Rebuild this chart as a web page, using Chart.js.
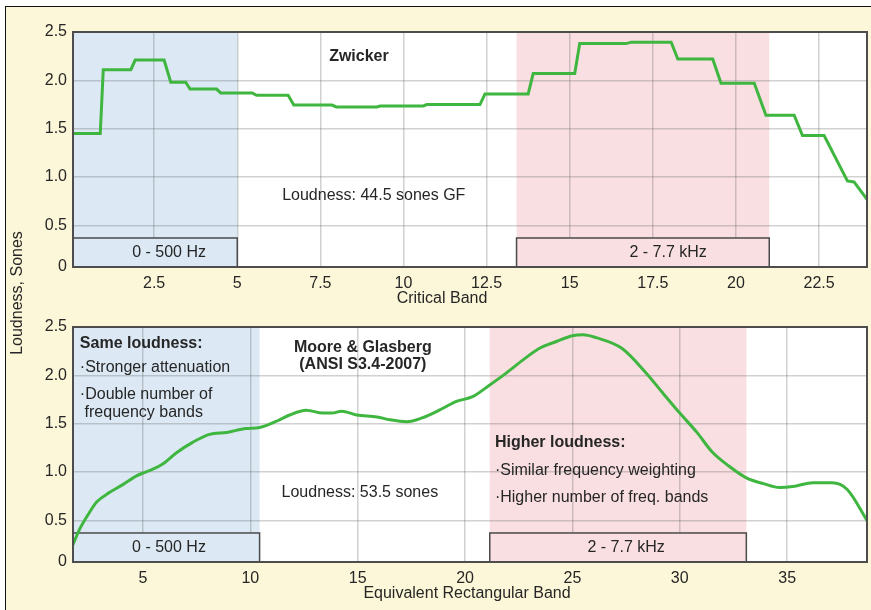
<!DOCTYPE html>
<html><head><meta charset="utf-8">
<script src="https://cdn.jsdelivr.net/npm/chart.js@4.4.1/dist/chart.umd.min.js"></script>
<style>
html,body{margin:0;padding:0;background:#fff;}
#wrap{position:relative;width:871px;height:610px;overflow:hidden;}
#bg{position:absolute;left:5px;top:6px;right:0;bottom:0;background:#fdf7d9;border-left:1.5px solid #111;border-top:1.5px solid #111;}
canvas{position:absolute;left:0;top:0;}
</style></head><body>
<div id="wrap"><div id="bg"></div>
<canvas id="c1" width="871" height="610"></canvas>
<canvas id="c2" width="871" height="610"></canvas>
</div>
<script>
// ---- Data ----
const zwickerBand = [0.06,0.88,0.97,1.8,1.93,2.8,3.0,3.45,3.58,4.38,4.5,5.45,5.58,6.53,6.7,7.85,7.98,9.2,9.3,10.6,10.7,12.3,12.45,13.75,13.9,15.15,15.3,16.7,16.85,18.05,18.25,19.3,19.55,20.55,20.9,21.75,22.0,22.65,23.35,23.55,23.94];
const zwickerLoudness = [1.45,1.45,2.11,2.11,2.21,2.21,1.98,1.98,1.91,1.91,1.87,1.87,1.845,1.845,1.745,1.745,1.725,1.725,1.735,1.735,1.75,1.75,1.86,1.86,2.07,2.07,2.38,2.38,2.395,2.395,2.22,2.22,1.97,1.97,1.64,1.64,1.43,1.43,0.96,0.95,0.77];

const erbBand = [1.74,2.05,2.5,2.84,3.45,4.06,4.7,5.0,5.46,5.9,6.56,7.33,8.1,8.9,9.8,10.43,11.36,11.83,12.6,13.37,13.8,14.25,14.95,15.9,16.5,17.3,18.0,18.8,19.6,20.35,21.15,21.9,22.7,23.47,24.26,25.0,25.5,26.1,27.3,28.45,29.2,30.0,30.8,31.5,32.3,33.1,33.9,34.65,35.26,36.2,37.1,37.8,38.72];
const mooreLoudness = [0.25,0.41,0.58,0.69,0.79,0.87,0.96,0.99,1.03,1.08,1.2,1.31,1.39,1.41,1.45,1.46,1.54,1.59,1.64,1.61,1.61,1.63,1.59,1.57,1.54,1.52,1.56,1.64,1.73,1.78,1.9,2.02,2.16,2.28,2.35,2.41,2.42,2.39,2.28,2.02,1.82,1.61,1.41,1.21,1.06,0.94,0.88,0.84,0.85,0.89,0.89,0.82,0.5];

const yTickValues = [0.07,0.5,1,1.5,2,2.5];
const yTickLabels = ['0','0.5','1.0','1.5','2.0','2.5'];
const cbTickValues = [2.5,5,7.5,10,12.5,15,17.5,20,22.5];
const cbTickLabels = ['2.5','5','7.5','10','12.5','15','17.5','20','22.5'];
const erbTickValues = [5,10,15,20,25,30,35];
const erbTickLabels = ['5','10','15','20','25','30','35'];

const cbRegions = [[0,5],[13.4,21.0]];
const erbRegions = [[0,10.43],[21.15,33.1]];
const regionLabels = ['0 - 500 Hz','2 - 7.7 kHz'];

// ---- Styles ----
const FONT = '"Liberation Sans", Arial, Helvetica, sans-serif';
const TXT = '#262626';
const regionColors = ['#dce9f5','#f9dfe2'];
Chart.defaults.font.family = FONT;
Chart.defaults.font.size = 16;
Chart.defaults.color = TXT;

const deco = {
  id: 'deco',
  beforeDraw(chart, args, o) {
    const {ctx, chartArea: a, scales: {x}} = chart;
    ctx.save();
    ctx.fillStyle = '#ffffff';
    ctx.fillRect(a.left, a.top, a.width, a.height);
    o.regions.forEach((r, i) => {
      const x0 = Math.max(x.getPixelForValue(r[0]), a.left);
      const x1 = Math.min(x.getPixelForValue(r[1]), a.right);
      ctx.fillStyle = regionColors[i];
      ctx.fillRect(x0, a.top, x1 - x0, a.height);
    });
    ctx.restore();
  },
  beforeDatasetsDraw(chart, args, o) {
    const {ctx, chartArea: a, scales: {x, y}} = chart;
    ctx.save();
    o.regions.forEach((r, i) => {
      const x0 = Math.max(x.getPixelForValue(r[0]), a.left);
      const x1 = Math.min(x.getPixelForValue(r[1]), a.right);
      const y0 = y.getPixelForValue(o.boxTop);
      ctx.fillStyle = regionColors[i];
      ctx.fillRect(x0, y0, x1 - x0, a.bottom - y0);
      ctx.strokeStyle = '#4a4a4a';
      ctx.lineWidth = 1.5;
      ctx.strokeRect(x0, y0, x1 - x0, a.bottom - y0);
    });
    ctx.restore();
  },
  afterDraw(chart, args, o) {
    const {ctx, chartArea: a, scales: {x, y}} = chart;
    ctx.save();
    ctx.strokeStyle = '#4d4d4d';
    ctx.lineWidth = 2;
    ctx.strokeRect(a.left, a.top, a.width, a.height);
    ctx.fillStyle = TXT;
    ctx.textBaseline = 'middle';
    o.texts.forEach(t => {
      ctx.font = (t.bold ? 'bold ' : '') + '16px ' + FONT;
      ctx.textAlign = t.align || 'left';
      const px = t.abs ? t.x : x.getPixelForValue(t.x);
      const py = t.abs ? t.y : y.getPixelForValue(t.y);
      if (t.rot) {
        ctx.save(); ctx.translate(px, py); ctx.rotate(-Math.PI / 2);
        ctx.fillText(t.text, 0, 0); ctx.restore();
      } else {
        ctx.fillText(t.text, px, py);
      }
    });
    ctx.restore();
  }
};

function makeChart(id, band, loud, xr, xTicks, xLabels, pad, regions, texts, smooth) {
  return new Chart(document.getElementById(id), {
    type: 'line',
    data: {
      datasets: [{
        data: band.map((b, i) => ({x: b, y: loud[i]})),
        borderColor: '#3fb63f',
        borderWidth: 3,
        pointRadius: 0,
        cubicInterpolationMode: smooth ? 'monotone' : 'default',
        tension: 0,
        fill: false
      }]
    },
    options: {
      responsive: false,
      animation: false,
      events: [],
      layout: {padding: pad},
      plugins: {
        legend: {display: false},
        tooltip: {enabled: false},
        deco: {regions: regions, boxTop: 0.37, texts: texts}
      },
      scales: {
        x: {
          type: 'linear', min: xr[0], max: xr[1],
          afterBuildTicks: ax => { ax.ticks = xTicks.map(v => ({value: v})); },
          afterFit: ax => { ax.height = 38; },
          ticks: {padding: 7, color: TXT, font: {size: 16}, callback: (v, i) => xLabels[i]},
          grid: {color: 'rgba(90,90,90,0.28)', lineWidth: 1.5, drawTicks: false},
          border: {display: false}
        },
        y: {
          type: 'linear', min: 0.07, max: 2.5,
          afterBuildTicks: ax => { ax.ticks = yTickValues.map(v => ({value: v})); },
          afterFit: ax => { ax.width = 73; },
          ticks: {padding: 6, color: TXT, font: {size: 16}, callback: (v, i) => yTickLabels[i]},
          grid: {color: 'rgba(90,90,90,0.28)', lineWidth: 1.5, drawTicks: false},
          border: {display: false}
        }
      }
    },
    plugins: [deco]
  });
}

makeChart('c1', zwickerBand, zwickerLoudness, [0.06, 23.94], cbTickValues, cbTickLabels,
  {left: 0, top: 32, right: 4, bottom: 305}, cbRegions, [
    {text: 'Zwicker', x: 8.66, y: 2.25, align: 'center', bold: true},
    {text: 'Loudness: 44.5 sones GF', x: 6.35, y: 0.81},
    {text: regionLabels[0], x: 2.95, y: 0.215, align: 'center'},
    {text: regionLabels[1], x: 17.96, y: 0.215, align: 'center'},
    {text: 'Critical Band', x: 442, y: 299, align: 'center', abs: true}
  ], false);

makeChart('c2', erbBand, mooreLoudness, [1.74, 38.72], erbTickValues, erbTickLabels,
  {left: 0, top: 327, right: 4, bottom: 10}, erbRegions, [
    {text: 'Same loudness:', x: 2.06, y: 2.33, bold: true},
    {text: '·Stronger attenuation', x: 2.06, y: 2.08},
    {text: '·Double number of', x: 2.06, y: 1.80},
    {text: 'frequency bands', x: 2.28, y: 1.62},
    {text: 'Moore & Glasberg', x: 15.24, y: 2.29, align: 'center', bold: true},
    {text: '(ANSI S3.4-2007)', x: 15.24, y: 2.11, align: 'center', bold: true},
    {text: 'Loudness: 53.5 sones', x: 15.1, y: 0.79, align: 'center'},
    {text: 'Higher loudness:', x: 21.39, y: 1.30, bold: true},
    {text: '·Similar frequency weighting', x: 21.39, y: 1.02},
    {text: '·Higher number of freq. bands', x: 21.39, y: 0.74},
    {text: regionLabels[0], x: 6.21, y: 0.215, align: 'center'},
    {text: regionLabels[1], x: 27.5, y: 0.215, align: 'center'},
    {text: 'Equivalent Rectangular Band', x: 467, y: 594, align: 'center', abs: true},
    {text: 'Loudness, Sones', x: 18, y: 293, align: 'center', abs: true, rot: true}
  ], true);
</script>
</body></html>
